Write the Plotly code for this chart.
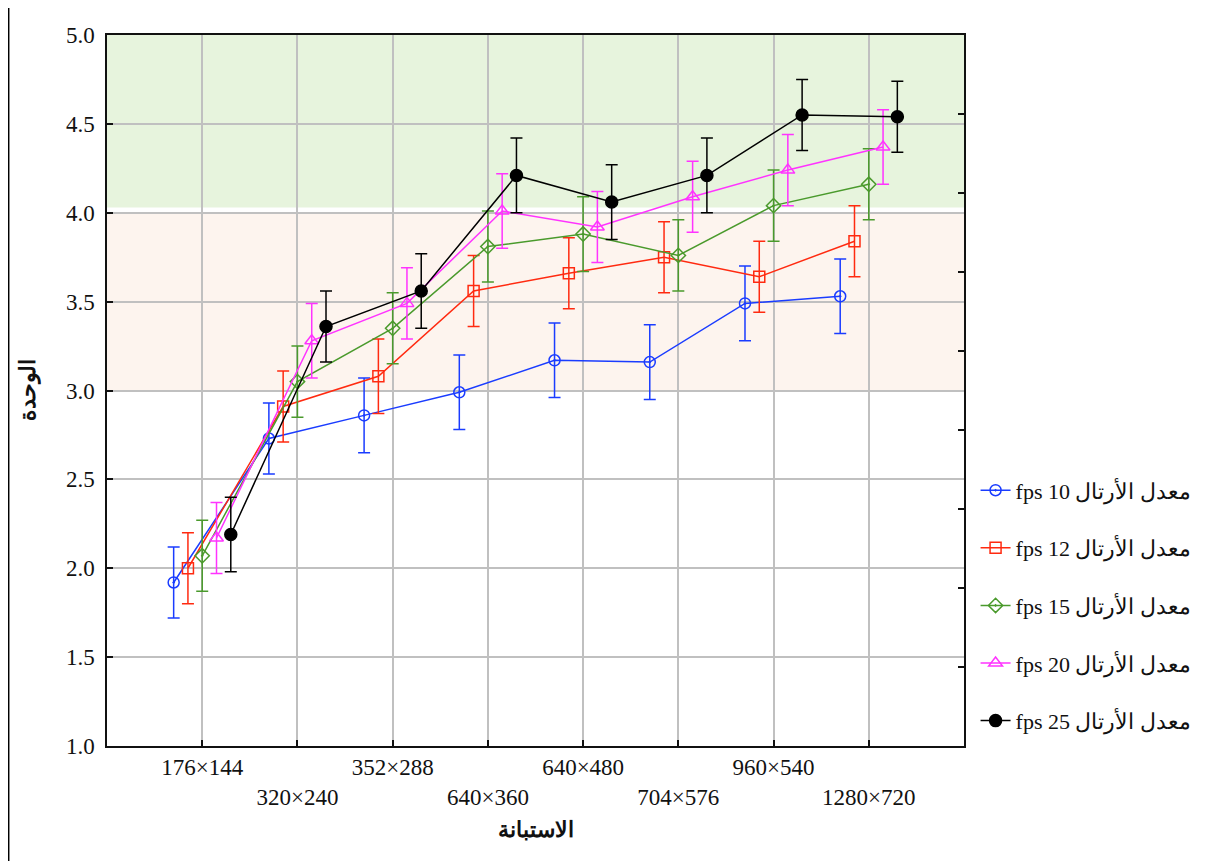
import plotly.graph_objects as go

categories = ["176×144", "320×240", "352×288", "640×360", "640×480", "704×576", "960×540", "1280×720"]
tick_rows = [0, 1, 0, 1, 0, 1, 0, 1]

series_names = ["fps 10 معدل الأرتال", "fps 12 معدل الأرتال", "fps 15 معدل الأرتال",
                "fps 20 معدل الأرتال", "fps 25 معدل الأرتال"]
fps10 = [1.92, 2.73, 2.86, 2.99, 3.17, 3.16, 3.49, 3.53]
fps12 = [2.00, 2.91, 3.08, 3.56, 3.66, 3.75, 3.64, 3.84]
fps15 = [2.07, 3.05, 3.35, 3.81, 3.88, 3.76, 4.04, 4.16]
fps20 = [2.17, 3.28, 3.49, 4.01, 3.92, 4.09, 4.24, 4.37]
fps25 = [2.19, 3.36, 3.56, 4.21, 4.06, 4.21, 4.55, 4.54]

err10 = [0.20, 0.20, 0.21, 0.21, 0.21, 0.21, 0.21, 0.21]
err12 = [0.20, 0.20, 0.21, 0.20, 0.20, 0.20, 0.20, 0.20]
err15 = [0.20, 0.20, 0.20, 0.20, 0.21, 0.20, 0.20, 0.20]
err20 = [0.20, 0.21, 0.20, 0.21, 0.20, 0.20, 0.20, 0.21]
err25 = [0.21, 0.20, 0.21, 0.21, 0.21, 0.21, 0.20, 0.20]

series_values = [fps10, fps12, fps15, fps20, fps25]
series_errors = [err10, err12, err15, err20, err25]

colors = ["#1a3cff", "#ff2a10", "#4a9a2c", "#ff33ff", "#000000"]
symbols = ["circle-open-dot", "square-open", "diamond-open-dot", "triangle-up-open", "circle"]
offsets = [-0.30, -0.15, 0.0, 0.15, 0.30]
msizes = [11, 11, 11, 12, 12]

font_fam = "Liberation Serif, Times New Roman, DejaVu Serif, serif"

fig = go.Figure()
for name, vals, errs, col, sym, off, ms in zip(series_names, series_values, series_errors,
                                                colors, symbols, offsets, msizes):
    xs = [i + 1 + off for i in range(len(vals))]
    fig.add_trace(go.Scatter(
        x=xs, y=vals, name=name, mode="lines+markers",
        line=dict(color=col, width=1.5),
        marker=dict(color=col, symbol=sym, size=ms, line=dict(color=col, width=1.5)),
        error_y=dict(type="data", array=errs, visible=True, color=col, thickness=1.5, width=6),
        legendgroup=name,
    ))

# helper trace so the right-hand tick axis is drawn
fig.add_trace(go.Scatter(x=[0], y=[0], yaxis="y2", mode="markers",
                         marker=dict(opacity=0), showlegend=False, hoverinfo="skip"))

ticktext = [("<br>" + c) if r else c for c, r in zip(categories, tick_rows)]

shapes = [
    dict(type="rect", xref="paper", yref="y", x0=0, x1=1, y0=4.03, y1=5.0,
         fillcolor="#e7f4dd", line=dict(width=0), layer="below"),
    dict(type="rect", xref="paper", yref="y", x0=0, x1=1, y0=3.0, y1=4.0,
         fillcolor="#fdf4ee", line=dict(width=0), layer="below"),
    dict(type="line", xref="paper", yref="paper", x0=-0.1147, x1=-0.1147, y0=-0.18, y1=1.05,
         line=dict(color="#000000", width=1.5)),
]

fig.update_layout(
    width=1220, height=861,
    margin=dict(l=99, r=264, t=27, b=123, autoexpand=False),
    paper_bgcolor="white", plot_bgcolor="white",
    font=dict(family=font_fam, size=23, color="#111111"),
    showlegend=True,
    legend=dict(x=1.0135, y=0.389, xanchor="left", yanchor="top",
                font=dict(family=font_fam, size=22), tracegroupgap=26,
                bgcolor="rgba(0,0,0,0)", itemwidth=30),
    shapes=shapes,
    xaxis=dict(range=[0, 9], tickvals=list(range(1, 9)), ticktext=ticktext,
               showgrid=True, gridcolor="#c0c0c0", gridwidth=1.5,
               ticks="inside", ticklen=6, tickwidth=1.5, tickcolor="#111111",
               showline=True, linecolor="#111111", linewidth=1.5, mirror=True,
               zeroline=False, tickfont=dict(size=23),
               title=dict(text="<b>الاستبانة</b>", font=dict(size=22), standoff=12)),
    yaxis=dict(range=[1.0, 5.0], dtick=0.5, tickformat=".1f",
               showgrid=True, gridcolor="#c0c0c0", gridwidth=1.5,
               ticks="inside", ticklen=6, tickwidth=1.5, tickcolor="#111111",
               showline=True, linecolor="#111111", linewidth=1.5, mirror=True,
               zeroline=False, tickfont=dict(size=23), ticklabelstandoff=6,
               title=dict(text="<b>الوحدة</b>", font=dict(size=22), standoff=24)),
    yaxis2=dict(range=[0, 9], dtick=1, overlaying="y", side="right",
                showticklabels=False, ticks="inside", ticklen=6, tickwidth=1.5,
                tickcolor="#111111", showgrid=False, zeroline=False, showline=False),
)

fig.write_html("out.html")
